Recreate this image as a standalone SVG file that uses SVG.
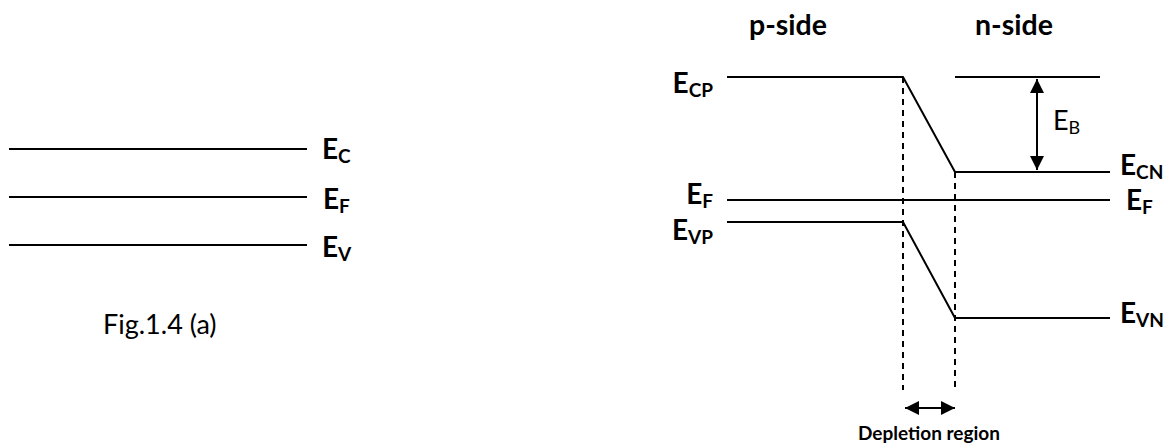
<svg xmlns="http://www.w3.org/2000/svg" width="1165" height="447" viewBox="0 0 1165 447">
<style>
.ln{stroke:#000;stroke-width:2;fill:none}
.dash{stroke:#000;stroke-width:2;fill:none;stroke-dasharray:6 5}
.lbl{font-family:Lato,"Liberation Sans",sans-serif;font-weight:bold;font-size:28px;fill:#000}
.sub{font-size:19px}
.reg{font-family:Lato,"Liberation Sans",sans-serif;font-size:27px;fill:#000}
.hd{font-family:Lato,"Liberation Sans",sans-serif;font-weight:bold;font-size:28.5px;fill:#000}
.sm{font-family:Lato,"Liberation Sans",sans-serif;font-weight:bold;font-size:19px;fill:#000}
</style>
<defs>
<marker id="ah" viewBox="0 0 10 10" refX="10" refY="5" markerWidth="15" markerHeight="14" orient="auto-start-reverse" markerUnits="userSpaceOnUse">
<path d="M0,0 L10,5 L0,10 Z" fill="#000"/>
</marker>
</defs>
<rect width="1165" height="447" fill="#fff"/>
<g id="fig-a">
<g id="ec"><line class="ln" x1="9" y1="149" x2="307" y2="149"/><text class="lbl" x="322" y="159">E<tspan class="sub" dy="4">C</tspan></text></g>
<g id="ef"><line class="ln" x1="9" y1="197" x2="307" y2="197"/><text class="lbl" x="323" y="209">E<tspan class="sub" dy="4">F</tspan></text></g>
<g id="ev"><line class="ln" x1="9" y1="245" x2="307" y2="245"/><text class="lbl" x="322" y="257">E<tspan class="sub" dy="4">V</tspan></text></g>
<text id="caption" class="reg" x="103" y="334">Fig.1.4 (a)</text>
</g>
<g id="fig-b">
<text id="pside" class="hd" x="749" y="35">p-side</text>
<text id="nside" class="hd" x="975" y="35">n-side</text>
<g id="conduction">
<polyline class="ln" points="727,77 903,77 955,172 1110,172"/>
<line class="ln" x1="955" y1="77" x2="1100" y2="77"/>
<text class="lbl" x="713" y="93" text-anchor="end">E<tspan class="sub" dy="4">CP</tspan></text>
<text class="lbl" x="1120" y="175">E<tspan class="sub" dy="4">CN</tspan></text>
</g>
<g id="fermi">
<line class="ln" x1="727" y1="200" x2="1110" y2="200"/>
<text class="lbl" x="713" y="204" text-anchor="end">E<tspan class="sub" dy="4">F</tspan></text>
<text class="lbl" x="1126" y="210">E<tspan class="sub" dy="4">F</tspan></text>
</g>
<g id="valence">
<polyline class="ln" points="727,222 903,222 955,318 1110,318"/>
<text class="lbl" x="713" y="240" text-anchor="end">E<tspan class="sub" dy="4">VP</tspan></text>
<text class="lbl" x="1120" y="323">E<tspan class="sub" dy="4">VN</tspan></text>
</g>
<g id="eb-label"><text class="reg" x="1053" y="130">E<tspan font-size="18px" dy="4">B</tspan></text></g>
<text id="depletion" class="sm" x="929" y="440" text-anchor="middle">Depletion region</text>
</g>
<g id="connectors">
<line class="dash" x1="903" y1="77" x2="903" y2="390"/>
<line class="dash" x1="955" y1="172" x2="955" y2="390"/>
<line class="ln" x1="1037" y1="79" x2="1037" y2="170" marker-start="url(#ah)" marker-end="url(#ah)"/>
<line class="ln" x1="905" y1="408" x2="955" y2="408" marker-start="url(#ah)" marker-end="url(#ah)"/>
</g>
</svg>
